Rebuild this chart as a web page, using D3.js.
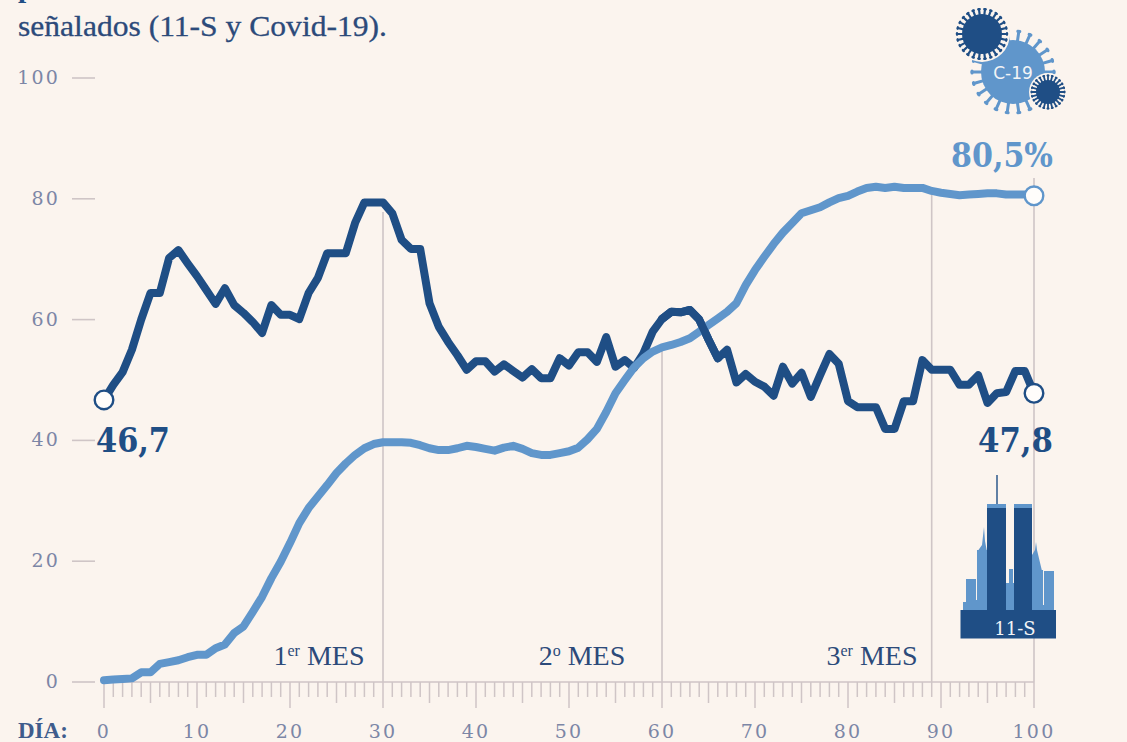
<!DOCTYPE html>
<html><head><meta charset="utf-8">
<script src="https://cdnjs.cloudflare.com/ajax/libs/d3/7.8.5/d3.min.js"></script>
<style>html,body{margin:0;padding:0;background:#FBF4EE;overflow:hidden}svg{display:block}</style>
</head><body><svg id="c" width="1127" height="742"></svg>
<script>
const days = d3.range(0, 101);
const attackValues = [46.7,49.2,51.3,55,60,64.4,64.4,70.2,71.5,69.3,67.2,64.9,62.6,65.2,62.4,61.1,59.6,57.8,62.4,60.8,60.8,60.1,64.4,66.9,71,71,71,76,79.4,79.4,79.4,77.6,73.2,71.7,71.7,62.7,58.8,56.3,54.1,51.7,53.1,53.1,51.4,52.6,51.5,50.4,51.8,50.3,50.3,53.6,52.4,54.6,54.6,53,57.1,52.2,53.3,52,54.4,58,60.1,61.3,61.2,61.6,60,56.7,53.6,55,49.6,51,49.7,48.9,47.4,52.2,49.4,51.2,47.2,50.8,54.3,52.7,46.5,45.5,45.5,45.5,41.9,41.9,46.5,46.5,53.3,51.7,51.7,51.7,49.2,49.2,50.8,46.2,47.8,48,51.5,51.5,47.8];
const covidValues = [0.3,0.4,0.5,0.6,1.6,1.6,3,3.3,3.6,4.1,4.5,4.5,5.6,6.2,8.1,9.2,11.6,14.1,17.2,19.9,23,26.3,28.8,30.7,32.6,34.6,36.2,37.6,38.7,39.4,39.7,39.7,39.7,39.6,39.2,38.7,38.4,38.4,38.7,39.1,38.9,38.6,38.3,38.8,39.1,38.6,37.9,37.6,37.6,37.9,38.2,38.8,40.2,41.9,44.7,47.8,50,52.1,53.6,54.7,55.4,55.8,56.3,56.9,58,59.1,60.2,61.3,62.7,65.7,68.2,70.4,72.5,74.4,76,77.6,78.1,78.6,79.4,80.1,80.5,81.2,81.8,82,81.8,82,81.8,81.8,81.8,81.3,81,80.8,80.6,80.7,80.8,80.9,80.9,80.7,80.7,80.7,80.5];
const yTicks = [0,20,40,60,80,100];
const xLabels = [0,10,20,30,40,50,60,70,80,90,100];
const monthMarks = [30,60,89,100];
const monthLabels = [["1","er"," MES",319],["2","o"," MES",582],["3","er"," MES",872]];

const svg = d3.select("#c");
const BG="#FBF4EE", NAVY="#1F4E85", LIGHT="#6096CB", TICKTXT="#7C86A6", GREY="#CFC5C6", INK="#2C4A7A";
const SERIF="'DejaVu Serif',serif", TXT="'Liberation Serif',serif";
const x = d3.scaleLinear().domain([0,100]).range([104,1034]);
const y = d3.scaleLinear().domain([0,100]).range([682,78]);

// heading
svg.append("text").attr("x",18).attr("y",36).attr("font-family",TXT).attr("font-size",29.5).attr("textLength",369).attr("lengthAdjust","spacingAndGlyphs").attr("fill",INK).attr("stroke",INK).attr("stroke-width",.3).text("señalados (11-S y Covid-19).");
svg.append("text").attr("x",18).attr("y",-3).attr("font-family",TXT).attr("font-weight",700).attr("font-size",29.5).attr("fill",NAVY).text("p");

// y axis
const gy = svg.append("g");
gy.selectAll("line").data(yTicks).join("line").attr("x1",72).attr("x2",95).attr("y1",d=>y(d)).attr("y2",d=>y(d)).attr("stroke",GREY).attr("stroke-width",1.6);
gy.selectAll("text").data(yTicks).join("text").attr("x",60).attr("y",d=>y(d)+6).attr("text-anchor","end").attr("font-family",SERIF).attr("font-size",19).attr("letter-spacing",2.2).attr("fill",TICKTXT).text(d=>d);

// x axis
const gx = svg.append("g");
gx.append("line").attr("x1",x(0)).attr("x2",x(100)).attr("y1",y(0)).attr("y2",y(0)).attr("stroke",GREY).attr("stroke-width",1.6);
gx.selectAll("line.t").data(days).join("line").attr("class","t").attr("x1",d=>x(d)).attr("x2",d=>x(d)).attr("y1",y(0)).attr("y2",d=>y(0)+(d%10===0?26:d%5===0?21:15)).attr("stroke",GREY).attr("stroke-width",1.5);
gx.selectAll("text").data(xLabels).join("text").attr("x",d=>x(d)).attr("y",738).attr("text-anchor","middle").attr("font-family",SERIF).attr("font-size",19).attr("letter-spacing",2.2).attr("fill",TICKTXT).text(d=>d);
svg.append("text").attr("x",18).attr("y",738).attr("font-family",TXT).attr("font-weight",700).attr("font-size",23).attr("fill","#3F5C8C").text("DÍA:");

// month guides
const guideTop = {30:212,60:345,89:190,100:178};
svg.append("g").selectAll("line").data(monthMarks).join("line").attr("x1",d=>x(d)).attr("x2",d=>x(d)).attr("y1",d=>guideTop[d]).attr("y2",y(0)).attr("stroke",GREY).attr("stroke-width",1.6);
const ml = svg.append("g").selectAll("text").data(monthLabels).join("text").attr("x",d=>d[3]).attr("y",665).attr("text-anchor","middle").attr("font-family",TXT).attr("font-size",28).attr("fill",INK);
ml.append("tspan").text(d=>d[0]);
ml.append("tspan").attr("font-size",16).attr("dy",-9).text(d=>d[1]);
ml.append("tspan").attr("dy",9).text(d=>d[2]);

// lines
const line = d3.line().x((d,i)=>x(days[i])).y(d=>y(d)).curve(d3.curveLinear);
const strokeLine = (data,colour)=>svg.append("path").datum(data).attr("d",line).attr("fill","none").attr("stroke",colour).attr("stroke-width",8).attr("stroke-linejoin","round").attr("stroke-linecap","round");
strokeLine(attackValues,NAVY);
strokeLine(covidValues,LIGHT);
// the dark line passes over the light one at the crossing near day 64
strokeLine(attackValues.slice(60,67),NAVY).attr("transform",`translate(${x(60)-x(0)},0)`);

// end markers
const markers = [[0,attackValues[0],NAVY],[100,attackValues[100],NAVY],[100,covidValues[100],LIGHT]];
svg.append("g").selectAll("circle").data(markers).join("circle").attr("cx",d=>x(d[0])).attr("cy",d=>y(d[1])).attr("r",9.3).attr("fill","#FFFDFB").attr("stroke",d=>d[2]).attr("stroke-width",2.4);

// value labels
const valueLabels = [["46,7",96,452,"start",NAVY,74],["47,8",978,452,"start",NAVY,75],["80,5%",951,167,"start",LIGHT,102]];
svg.append("g").selectAll("text").data(valueLabels).join("text").attr("x",d=>d[1]).attr("y",d=>d[2]).attr("text-anchor",d=>d[3]).attr("font-family",SERIF).attr("font-weight",700).attr("font-size",34).attr("textLength",d=>d[5]).attr("lengthAdjust","spacingAndGlyphs").attr("fill",d=>d[4]).text(d=>d[0]);

// virus icon
function virus(cx,cy,r,len,n,fill,w,cap){
  const g=svg.append("g");
  d3.range(n).forEach(i=>{const a=i/n*2*Math.PI, c=Math.cos(a), s=Math.sin(a), e=r+len;
    g.append("line").attr("x1",cx+c*r*.9).attr("y1",cy+s*r*.9).attr("x2",cx+c*e).attr("y2",cy+s*e).attr("stroke",fill).attr("stroke-width",w).attr("stroke-linecap","round");
    g.append("line").attr("x1",cx+c*e-s*cap).attr("y1",cy+s*e+c*cap).attr("x2",cx+c*e+s*cap).attr("y2",cy+s*e-c*cap).attr("stroke",fill).attr("stroke-width",w).attr("stroke-linecap","round");
  });
  g.append("circle").attr("cx",cx).attr("cy",cy).attr("r",r).attr("fill",fill);
}
virus(1013,72,32,9,22,LIGHT,3,1);
svg.append("text").attr("x",1013).attr("y",79).attr("text-anchor","middle").attr("font-family","'DejaVu Sans',sans-serif").attr("font-size",17).attr("fill","#F3F4F6").text("C-19");
svg.append("circle").attr("cx",982).attr("cy",34).attr("r",28).attr("fill",BG);
virus(982,34,20,5,26,NAVY,2.2,.8);
svg.append("circle").attr("cx",1048).attr("cy",92).attr("r",19).attr("fill",BG);
virus(1048,92,12,4.5,24,NAVY,1.8,.6);

// towers icon
const sky = svg.append("g");
const lightBlocks=[[963,602,4,9],[966,579,10,32],[975,600,3,11],[977,550,10,61],[1032,570,11,41],[1042,605,3,6],[1044,571,10,40],[1006,583,8,28],[1009,569,4,20]];
sky.selectAll("rect.l").data(lightBlocks).join("rect").attr("class","l").attr("x",d=>d[0]).attr("y",d=>d[1]).attr("width",d=>d[2]).attr("height",d=>d[3]).attr("fill",LIGHT);
sky.append("path").attr("d","M977 552L982 545L984 527L985 541L987 552Z").attr("fill",LIGHT);
sky.append("path").attr("d","M1032 571L1032 555L1035 550L1036 542L1037 550L1042 571Z").attr("fill",LIGHT);
sky.append("rect").attr("x",987).attr("y",504).attr("width",19).attr("height",107).attr("fill",NAVY);
sky.append("rect").attr("x",1014).attr("y",504).attr("width",18).attr("height",107).attr("fill",NAVY);
sky.append("rect").attr("x",987).attr("y",504).attr("width",19).attr("height",4).attr("fill",LIGHT);
sky.append("rect").attr("x",1014).attr("y",504).attr("width",18).attr("height",4).attr("fill",LIGHT);
sky.append("line").attr("x1",997).attr("x2",997).attr("y1",475).attr("y2",504).attr("stroke",NAVY).attr("stroke-width",1.4);
sky.append("rect").attr("x",960.5).attr("y",610).attr("width",95.5).attr("height",28.5).attr("fill",NAVY);
sky.append("text").attr("x",1015).attr("y",635).attr("text-anchor","middle").attr("font-family",SERIF).attr("font-size",18).attr("fill","#F3F4F6").text("11-S");
</script></body></html>
